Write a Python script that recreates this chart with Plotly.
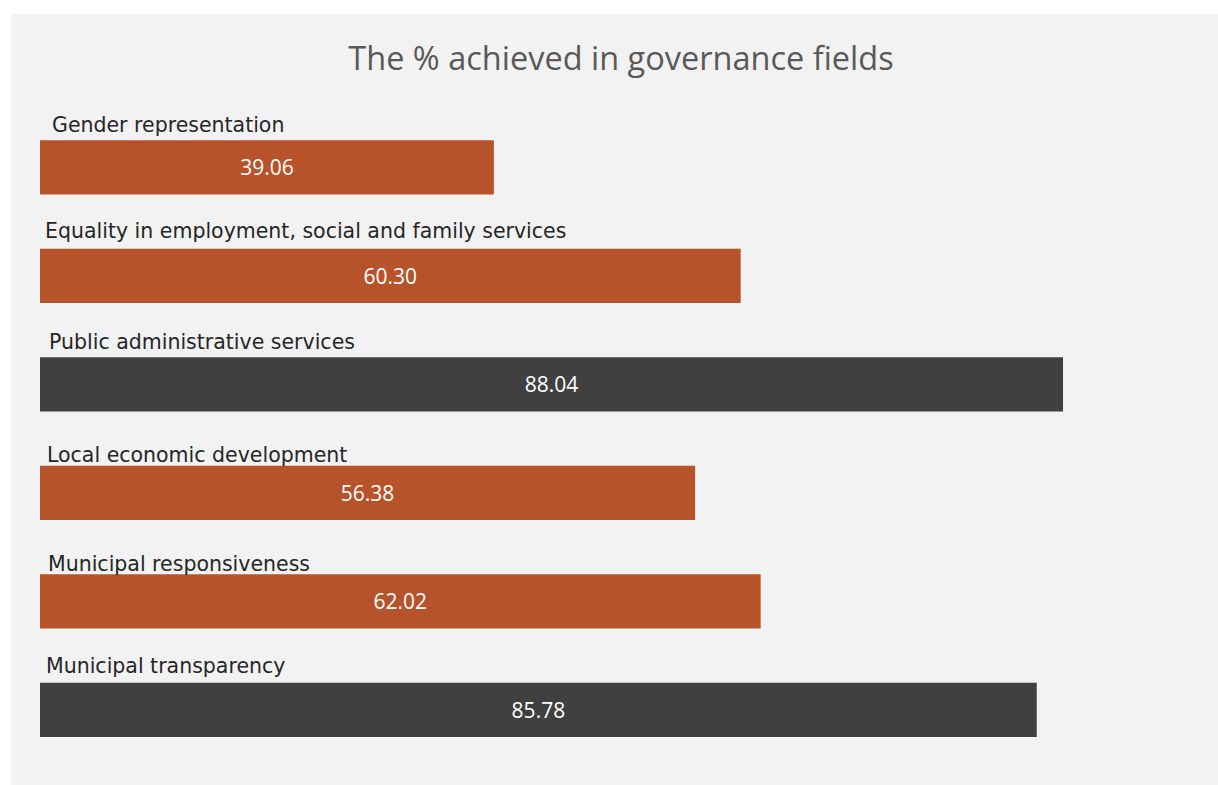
import plotly.graph_objects as go

# Governance fields, top to bottom as listed
fields = [
    "Gender representation",
    "Equality in employment, social and family services",
    "Public administrative services",
    "Local economic development",
    "Municipal responsiveness",
    "Municipal transparency",
]
achieved = [39.06, 60.30, 88.04, 56.38, 62.02, 85.78]
bar_colors = ["#B7532A", "#B7532A", "#404040", "#B7532A", "#B7532A", "#404040"]

# Per-label nudges for the field names placed above the bars (px)
label_dx = [10, 3, 7, 5, 6, 4]
label_dy = [42.5, 44.5, 42, 38, 37.5, 44]

W, H = 1218, 785
ML, MR, MT, MB = 40, 16, 113, 21

fig = go.Figure()
fig.add_trace(go.Bar(
    y=fields,
    x=achieved,
    orientation="h",
    width=0.5,
    marker=dict(color=bar_colors, line=dict(width=0)),
    text=[f"{v:.2f}" for v in achieved],
    textposition="inside",
    insidetextanchor="middle",
    textangle=0,
    textfont=dict(family="Open Sans", size=21, color="#FFFFFF"),
    hoverinfo="skip",
))

# Field names sit above each bar
for name, dx, dy in zip(fields, label_dx, label_dy):
    fig.add_annotation(
        x=0, y=name, xref="x", yref="y",
        text=name, showarrow=False,
        xanchor="left", yanchor="middle",
        xshift=dx, yshift=dy,
        font=dict(family="DejaVu Sans", size=20.5, color="#262626"),
    )

# Light grey panel behind the chart
pw = W - ML - MR
ph = H - MT - MB
fig.add_shape(
    type="rect", xref="paper", yref="paper", layer="below",
    x0=(11 - ML) / pw, x1=(W - ML) / pw,
    y0=-MB / ph, y1=(H - 14 - MB) / ph,
    fillcolor="#F2F2F2", line=dict(width=0),
)

fig.update_layout(
    width=W, height=H,
    margin=dict(l=ML, r=MR, t=MT, b=MB),
    paper_bgcolor="#FFFFFF",
    plot_bgcolor="rgba(0,0,0,0)",
    showlegend=False,
    title=dict(
        text="The % achieved in governance fields",
        x=0.5, xref="paper", xanchor="center",
        y=1 - 59 / H, yref="container", yanchor="middle",
        font=dict(family="Open Sans", size=32.5, color="#595959"),
    ),
    xaxis=dict(range=[0, 100], visible=False, fixedrange=True),
    yaxis=dict(
        categoryorder="array", categoryarray=fields[::-1],
        range=[-0.5, len(fields) - 0.5],
        visible=False, fixedrange=True,
    ),
)

fig.write_html("out.html")
